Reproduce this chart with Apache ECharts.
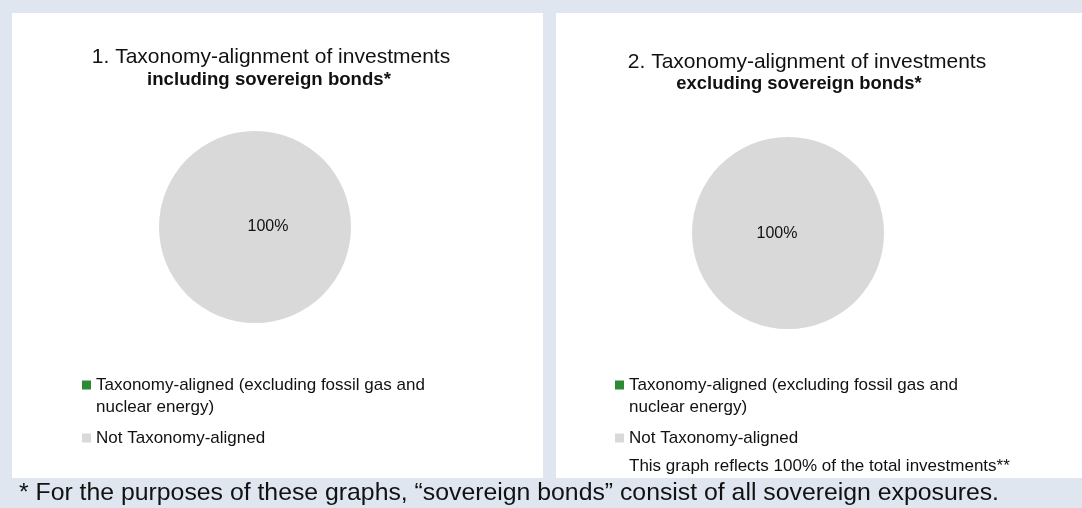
<!DOCTYPE html>
<html>
<head>
<meta charset="utf-8">
<script src="https://cdn.jsdelivr.net/npm/echarts@6/dist/echarts.min.js"></script>
<style>
  html, body { margin: 0; padding: 0; background: #dfe6f0; }
  #chart { width: 1082px; height: 508px; }
</style>
</head>
<body>
<div id="chart"></div>
<script>
// 数据
const categories = ['Taxonomy-aligned (excluding fossil gas and nuclear energy)', 'Not Taxonomy-aligned']
const inclSovereignBonds = [0, 100]
const exclSovereignBonds = [0, 100]
const sliceColors = ['#2f8a36', '#d9d9d9']

const font = "'Liberation Sans', Arial, Helvetica, sans-serif"
const ink = '#111111'

const pieSeries = (name, values, center, dx, dy) => ({
  type: 'pie',
  name: name,
  center: center,
  radius: 96,
  startAngle: 90,
  silent: true,
  label: {
    show: true,
    position: 'center',
    fontFamily: font,
    fontSize: 16,
    color: ink,
    formatter: function(params) {
      // 0值不显示标签
      return params.value > 0 ? Math.round(params.percent) + '%' : ''
    }
  },
  labelLayout: { dx: dx, dy: dy },
  labelLine: { show: false },
  emphasis: { disabled: true },
  data: categories.map((c, i) => ({
    name: c,
    value: values[i],
    itemStyle: { color: sliceColors[i] }
  }))
})

// 图例 单项一个；两行的那项前面加一空行，让图标对齐第一行
const legendItem = (idx, left, top) => ({
  data: [categories[idx]],
  orient: 'vertical',
  left: left,
  top: top,
  padding: 0,
  icon: 'rect',
  itemWidth: 9,
  itemHeight: 9,
  selectedMode: false,
  formatter: n => {
    if (n.indexOf(' nuclear') < 0) return n
    return '\n' + n.replace(' nuclear', '\nnuclear')
  },
  textStyle: {
    fontFamily: font,
    fontSize: 17,
    lineHeight: 22,
    color: ink
  }
})

const txt = (text, x, y, size, weight, align) => ({
  type: 'text',
  x: x,
  y: y,
  style: {
    text: text,
    fontFamily: font,
    fontSize: size,
    fontWeight: weight || 'normal',
    fill: ink,
    align: align || 'center',
    verticalAlign: 'middle'
  }
})

const myChart = echarts.init(document.getElementById('chart'), null, { renderer: 'canvas' })

const option = {
  animation: false,
  backgroundColor: '#dfe6f0',
  graphic: [
    { type: 'rect', shape: { x: 12, y: 13, width: 531, height: 465 }, style: { fill: '#ffffff' } },
    { type: 'rect', shape: { x: 556, y: 13, width: 526, height: 465 }, style: { fill: '#ffffff' } },
    txt('1. Taxonomy-alignment of investments', 271, 57.5, 21),
    txt('including sovereign bonds*', 269, 79.5, 18.6, 'bold'),
    txt('2. Taxonomy-alignment of investments', 807, 62, 21),
    txt('excluding sovereign bonds*', 799, 84, 18.4, 'bold'),
    txt('This graph reflects 100% of the total investments**', 629, 466, 17, 'normal', 'left'),
    txt('* For the purposes of these graphs, \u201csovereign bonds\u201d consist of all sovereign exposures.', 19, 493, 24.8, 'normal', 'left')
  ],
  legend: [
    legendItem(0, 82, 352),
    legendItem(1, 82, 427),
    legendItem(0, 615, 352),
    legendItem(1, 615, 427)
  ],
  series: [
    pieSeries('including sovereign bonds', inclSovereignBonds, [255, 227], 13, 0),
    pieSeries('excluding sovereign bonds', exclSovereignBonds, [788, 233], -11, 1)
  ]
}

myChart.setOption(option)
</script>
</body>
</html>
